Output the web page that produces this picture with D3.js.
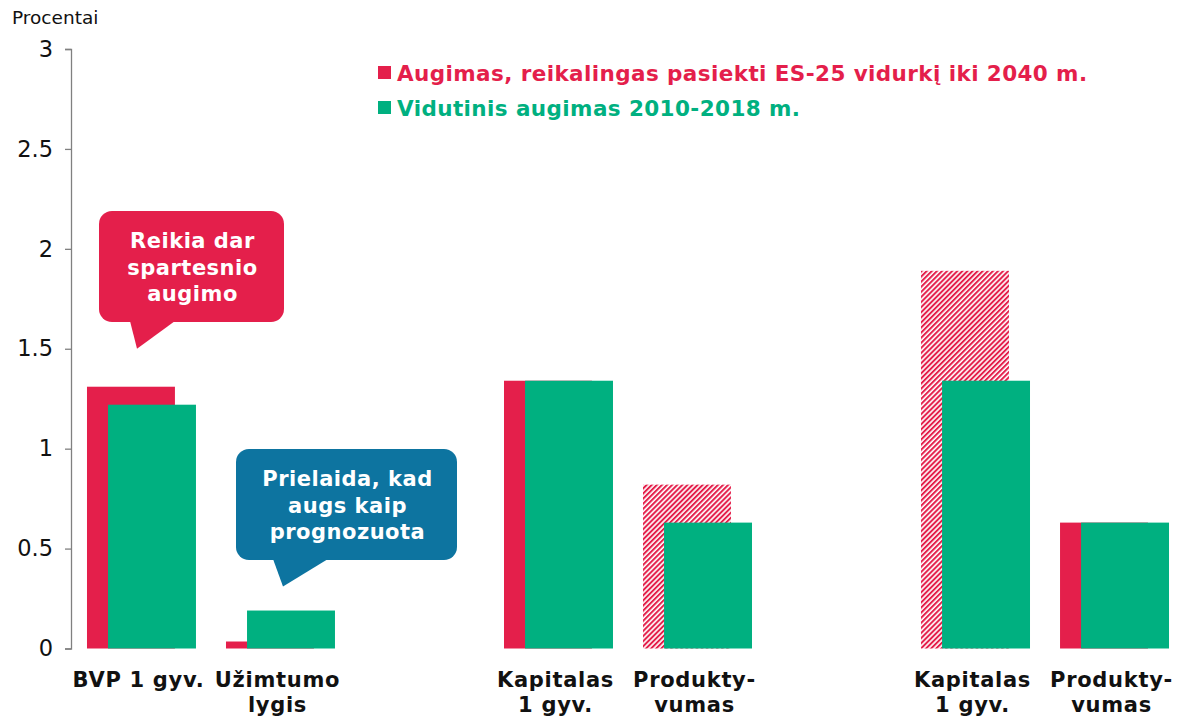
<!DOCTYPE html>
<html>
<head>
<meta charset="utf-8">
<script src="https://cdn.jsdelivr.net/npm/d3@7"></script>
<style>
  html, body { margin: 0; padding: 0; background: #fff; }
  svg { display: block; }
  text { font-family: "DejaVu Sans", Verdana, sans-serif; }
</style>
</head>
<body>
<svg id="chart" width="1178" height="717"></svg>
<script>
// ---------- data ----------
const categories = ["BVP 1 gyv.", "Užimtumo lygis", "Kapitalas 1 gyv.", "Produkty-vumas", "Kapitalas 1 gyv.", "Produkty-vumas"];
const categoryLines = [["BVP 1 gyv."], ["Užimtumo", "lygis"], ["Kapitalas", "1 gyv."], ["Produkty-", "vumas"], ["Kapitalas", "1 gyv."], ["Produkty-", "vumas"]];
const groupOf = [0, 0, 1, 1, 2, 2];
const requiredGrowth = [1.31, 0.035, 1.34, 0.82, 1.89, 0.63];     // Augimas, reikalingas pasiekti ES-25 vidurkį iki 2040 m.
const requiredHatched = [false, false, false, true, true, false];
const averageGrowth = [1.22, 0.19, 1.34, 0.63, 1.34, 0.63];      // Vidutinis augimas 2010-2018 m.
const yTicks = [0, 0.5, 1, 1.5, 2, 2.5, 3];
const seriesNames = ["Augimas, reikalingas pasiekti ES-25 vidurkį iki 2040 m.", "Vidutinis augimas 2010-2018 m."];
const callouts = [
  { lines: ["Reikia dar", "spartesnio", "augimo"], cat: 0, value: 1.5, color: "#E41F4B" },
  { lines: ["Prielaida, kad", "augs kaip", "prognozuota"], cat: 1, value: 0.31, color: "#0D74A0" }
];

const RED = "#E41F4B", GREEN = "#00B080";

// ---------- layout ----------
const svg = d3.select("#chart");
const axisX = 71;

// slot domain: categories with an empty slot between groups
const slots = [];
categories.forEach((c, i) => {
  if (i > 0 && groupOf[i] !== groupOf[i - 1]) slots.push("gap" + i);
  slots.push("cat" + i);
});

const x = d3.scaleBand().domain(slots).range([axisX, 1185]).paddingInner(0.216).paddingOuter(0.115);
const y = d3.scaleLinear().domain([0, 3]).range([648.5, 49]);

const bw = x.bandwidth();
const redW = bw * 0.807;
const greenOff = bw * 0.193;

// hatch pattern
const defs = svg.append("defs");
const pat = defs.append("pattern")
  .attr("id", "hatch").attr("patternUnits", "userSpaceOnUse")
  .attr("width", 3.6).attr("height", 3.6)
  .attr("patternTransform", "rotate(45)");
pat.append("rect").attr("width", 3.6).attr("height", 3.6).attr("fill", "#fff");
pat.append("rect").attr("width", 2).attr("height", 3.6).attr("fill", RED);

// y axis
const yAxis = d3.axisLeft(y).tickValues(yTicks).tickSize(6).tickPadding(12).tickFormat(d3.format("~g"));
const gy = svg.append("g").attr("transform", `translate(${axisX},0)`).call(yAxis);
gy.select(".domain").attr("stroke", "#808080").attr("stroke-width", 1.3);
gy.selectAll(".tick line").attr("stroke", "#808080").attr("stroke-width", 1.3);
gy.selectAll(".tick text").attr("font-size", 22.5).attr("fill", "#111")
  .style("font-family", '"DejaVu Sans", Verdana, sans-serif');

svg.append("text").attr("x", 12).attr("y", 24).attr("font-size", 18.5).attr("fill", "#111").text("Procentai");

// bars
const bars = svg.append("g");
categories.forEach((c, i) => {
  const x0 = x("cat" + i);
  bars.append("rect")
    .attr("x", x0).attr("width", redW)
    .attr("y", y(requiredGrowth[i])).attr("height", y(0) - y(requiredGrowth[i]))
    .attr("fill", requiredHatched[i] ? "url(#hatch)" : RED);
  bars.append("rect")
    .attr("x", x0 + greenOff).attr("width", bw - greenOff)
    .attr("y", y(averageGrowth[i])).attr("height", y(0) - y(averageGrowth[i]))
    .attr("fill", GREEN);
});

// category labels
const labFont = 21, labSpacing = 0.7;
categories.forEach((c, i) => {
  const cx = x("cat" + i) + bw / 2 - 3;
  const t = svg.append("text").attr("text-anchor", "middle")
    .attr("font-size", labFont).attr("font-weight", "bold").attr("fill", "#111")
    .attr("letter-spacing", labSpacing);
  categoryLines[i].forEach((ln, k) => {
    t.append("tspan").attr("x", cx).attr("y", 687 + k * 25).text(ln);
  });
});

// legend
const legend = svg.append("g");
[RED, GREEN].forEach((col, k) => {
  const ly = 66 + k * 35;
  legend.append("rect").attr("x", 378).attr("y", ly).attr("width", 13).attr("height", 13).attr("fill", col);
  legend.append("text").attr("x", 397).attr("y", ly + 15)
    .attr("font-size", 21.5).attr("font-weight", "bold").attr("fill", col)
    .attr("letter-spacing", 0.4).text(seriesNames[k]);
});

// callouts
const boxes = [
  { x0: 99, x1: 284, y0: 211, y1: 322, tail: [130, 175], tipDx: 7 },
  { x0: 236, x1: 457, y0: 449, y1: 560, tail: [273, 328], tipDx: 10 }
];
callouts.forEach((co, k) => {
  const b = boxes[k];
  const g = svg.append("g");
  const tipY = y(co.value);
  g.append("rect").attr("x", b.x0).attr("y", b.y0).attr("width", b.x1 - b.x0).attr("height", b.y1 - b.y0)
    .attr("rx", 13).attr("fill", co.color);
  g.append("path")
    .attr("d", `M${b.tail[0]},${b.y1 - 1} L${b.tail[0] + b.tipDx},${tipY} L${b.tail[1]},${b.y1 - 1} Z`)
    .attr("fill", co.color);
  const t = g.append("text").attr("text-anchor", "middle").attr("fill", "#fff")
    .attr("font-size", 21).attr("font-weight", "bold").attr("letter-spacing", 0.5);
  const cx = (b.x0 + b.x1) / 2 + 1;
  co.lines.forEach((ln, j) => {
    t.append("tspan").attr("x", cx).attr("y", b.y0 + 37 + j * 26.5).text(ln);
  });
});
</script>
</body>
</html>
